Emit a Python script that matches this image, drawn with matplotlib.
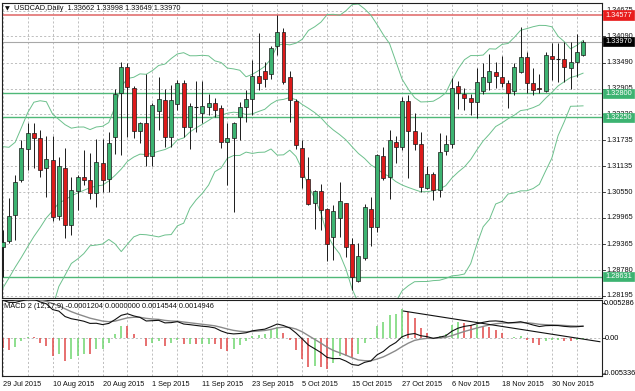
import numpy as np
import pandas as pd
import matplotlib
matplotlib.use("Agg")
import matplotlib.pyplot as plt
from matplotlib.patches import Rectangle
from matplotlib import transforms

plt.rcParams['font.family'] = ['Liberation Sans', 'DejaVu Sans']

W, H = 635, 391

# ---------------- data (USDCAD daily, from 29 Jul 2015) ----------------
opens = [1.2930, 1.2944, 1.3003, 1.3083, 1.3153, 1.3190, 1.3178, 1.3110, 1.3128, 1.3001,
         1.3110, 1.2980, 1.3058, 1.3090, 1.3083, 1.3053, 1.3121, 1.3085, 1.3180, 1.3280,
         1.3340, 1.3292, 1.3194, 1.3212, 1.3137, 1.3240, 1.3265, 1.3180, 1.3255, 1.3303,
         1.3203, 1.3249, 1.3235, 1.3249, 1.3258, 1.3246, 1.3169, 1.3178, 1.3226, 1.3249,
         1.3267, 1.3319, 1.3330, 1.3324, 1.3387, 1.3419, 1.3317, 1.3262, 1.3155, 1.3085,
         1.3030, 1.3058, 1.3017, 1.2953, 1.2996, 1.3030, 1.2937, 1.2853, 1.2906, 1.3017,
         1.2976, 1.3137, 1.3090, 1.3169, 1.3158, 1.3262, 1.3194, 1.3164, 1.3065, 1.3096,
         1.3060, 1.3149, 1.3164, 1.3296, 1.3278, 1.3269, 1.3260, 1.3285, 1.3305, 1.3328,
         1.3317, 1.3303, 1.3285, 1.3328, 1.3362, 1.3303, 1.3292, 1.3285, 1.3365, 1.3358,
         1.3358, 1.3337, 1.3351, 1.33662]
highs = [1.2969, 1.3042, 1.3094, 1.3174, 1.3212, 1.3212, 1.3196, 1.3183, 1.3183, 1.3135,
         1.3155, 1.3090, 1.3094, 1.3151, 1.3144, 1.3176, 1.3176, 1.3192, 1.3290, 1.3351,
         1.3349, 1.3296, 1.3214, 1.3324, 1.3258, 1.3317, 1.3290, 1.3299, 1.3310, 1.3310,
         1.3258, 1.3308, 1.3308, 1.3278, 1.3269, 1.3253, 1.3212, 1.3214, 1.3260, 1.3287,
         1.3355, 1.3417, 1.3351, 1.3387, 1.3457, 1.3428, 1.3330, 1.3267, 1.3174, 1.3135,
         1.3060, 1.3074, 1.3019, 1.3026, 1.3078, 1.3030, 1.2951, 1.2940, 1.3028, 1.3044,
         1.3142, 1.3158, 1.3196, 1.3183, 1.3271, 1.3276, 1.3235, 1.3192, 1.3115, 1.3101,
         1.3190, 1.3185, 1.3314, 1.3308, 1.3292, 1.3278, 1.3337, 1.3349, 1.3369, 1.3351,
         1.3365, 1.3310, 1.3349, 1.3430, 1.3374, 1.3337, 1.3324, 1.3374, 1.3394, 1.3394,
         1.3396, 1.3396, 1.3415, 1.33998]
lows = [1.2863, 1.2940, 1.2946, 1.3078, 1.3105, 1.3110, 1.3090, 1.3044, 1.2990, 1.2992,
        1.2951, 1.2958, 1.3015, 1.3071, 1.3040, 1.3021, 1.3055, 1.3055, 1.3142, 1.3140,
        1.3180, 1.3178, 1.3167, 1.3115, 1.3115, 1.3196, 1.3158, 1.3158, 1.3242, 1.3180,
        1.3153, 1.3192, 1.3212, 1.3230, 1.3226, 1.3155, 1.3071, 1.3010, 1.3174, 1.3214,
        1.3230, 1.3287, 1.3294, 1.3312, 1.3367, 1.3301, 1.3214, 1.3153, 1.3065, 1.3026,
        1.2971, 1.2969, 1.2899, 1.2901, 1.2953, 1.2908, 1.2833, 1.2851, 1.2901, 1.2933,
        1.2965, 1.3083, 1.3040, 1.3121, 1.3151, 1.3087, 1.3151, 1.3055, 1.3062, 1.3037,
        1.3044, 1.3140, 1.3155, 1.3244, 1.3242, 1.3230, 1.3224, 1.3278, 1.3287, 1.3292,
        1.3294, 1.3246, 1.3276, 1.3326, 1.3280, 1.3276, 1.3280, 1.3283, 1.3310, 1.3305,
        1.3305, 1.3290, 1.3317, 1.33649]
closes = [1.2942, 1.3001, 1.3078, 1.3155, 1.3190, 1.3178, 1.3105, 1.3130, 1.2999, 1.3115,
          1.2980, 1.3060, 1.3090, 1.3083, 1.3053, 1.3124, 1.3083, 1.3167, 1.3278, 1.3340,
          1.3294, 1.3194, 1.3212, 1.3137, 1.3253, 1.3267, 1.3180, 1.3265, 1.3303, 1.3203,
          1.3251, 1.3249, 1.3251, 1.3258, 1.3242, 1.3169, 1.3178, 1.3212, 1.3249, 1.3267,
          1.3319, 1.3303, 1.3312, 1.3383, 1.3419, 1.3305, 1.3265, 1.3162, 1.3090, 1.3028,
          1.3058, 1.3015, 1.2937, 1.3012, 1.3035, 1.2930, 1.2862, 1.2910, 1.3021, 1.2976,
          1.3140, 1.3087, 1.3174, 1.3158, 1.3262, 1.3194, 1.3164, 1.3067, 1.3096, 1.3060,
          1.3146, 1.3164, 1.3292, 1.3280, 1.3269, 1.3260, 1.3305, 1.3317, 1.3330, 1.3319,
          1.3303, 1.3280, 1.3340, 1.3362, 1.3303, 1.3287, 1.3290, 1.3367, 1.3358, 1.3358,
          1.3340, 1.3351, 1.3374, 1.33970]
# closes before the first visible bar (estimated, needed for band / MACD warm-up)
prior_closes = [1.2300, 1.2280, 1.2260, 1.2290, 1.2310, 1.2390, 1.2370, 1.2370, 1.2350, 1.2430,
                1.2490, 1.2577, 1.2530, 1.2589, 1.2704, 1.2709, 1.2712, 1.2700, 1.2689, 1.2677,
                1.2757, 1.2842, 1.2874, 1.2964, 1.2958, 1.2934, 1.3049, 1.3044, 1.2977, 1.3025,
                1.3051]

level_red = 1.34577
level_last = 1.33970
levels_green = [1.32800, 1.32250, 1.28631]
price_ticks = [1.28195, 1.28780, 1.29365, 1.29965, 1.30550, 1.31135, 1.31735,
               1.32320, 1.32905, 1.33490, 1.34090, 1.34675]
macd_tick_vals = [0.005286, 0.0, -0.005336]
macd_tick_txt = ["0.005286", "0.00", "-0.005336"]
trend_bars = [64.2, 95.7]
trend_vals = [0.00408, -0.00051]
title_txt = "USDCAD,Daily  1.33662 1.33998 1.33649 1.33970"
macd_txt = "MACD 2 (12,17,9) -0.0001204 0.0000000 0.0014544 0.0014946"
fast_p, slow_p, sig_p = 12, 17, 6

# ---------------- indicators ----------------
n = len(closes)
idx = np.arange(n)
dates = pd.bdate_range('2015-07-29', periods=n)
allc = pd.Series(prior_closes + closes)
mid = allc.rolling(20).mean().values[-n:]
sd = allc.rolling(20).std(ddof=0).values[-n:]
upper = mid + 2 * sd
lower = mid - 2 * sd
macd_full = allc.ewm(span=fast_p, adjust=False).mean() - allc.ewm(span=slow_p, adjust=False).mean()
sig_full = macd_full.ewm(span=sig_p, adjust=False).mean()
hist_full = 3 * (macd_full - sig_full)
macd = macd_full.values[-n:]
sig = sig_full.values[-n:]
hist = hist_full.values[-n:]
hist_prev = hist_full.values[-n - 1:-1]

# ---------------- figure ----------------
fig = plt.figure(figsize=(W / 100, H / 100), dpi=100)
fig.patch.set_facecolor('white')

def fx(px):
    return px / W

def fy(py):
    return 1 - py / H

ax = fig.add_axes([fx(2), fy(298), 600 / W, 295 / H])
axm = fig.add_axes([fx(2), fy(376), 600 / W, 76 / H])
xl = (-0.11, 96.04)
for a in (ax, axm):
    a.set_xlim(*xl)
    a.set_xticks([])
    a.set_yticks([])
    for s in a.spines.values():
        s.set_color('#202020')
        s.set_linewidth(0.8)
ax.set_ylim(1.28145, 1.34850)
axm.set_ylim(-0.00564, 0.00573)

grid_kw = dict(color='#b4b4b4', lw=0.6, ls=(0, (2.5, 2.5)), zorder=0)
for t in price_ticks:
    ax.axhline(t, **grid_kw)
for b in range(0, n, 4):
    ax.axvline(b, **grid_kw)
    axm.axvline(b, **grid_kw)
axm.axhline(0, **grid_kw)

# level lines
ax.axhline(level_red, color='#e47c7c', lw=1.3, zorder=1)
ax.axhline(level_last, color='#a8a8a8', lw=0.8, zorder=1)
for lv in levels_green:
    ax.axhline(lv, color='#4fb878', lw=1.0, zorder=1)

# bollinger bands
bb_col = '#6cc08c'
ax.plot(idx, upper, color=bb_col, lw=0.7, zorder=2)
ax.plot(idx, mid, color=bb_col, lw=0.7, zorder=2)
ax.plot(idx, lower, color=bb_col, lw=0.7, zorder=2)

# candles
bw = 0.64
for i in range(n):
    o, h, l, c = opens[i], highs[i], lows[i], closes[i]
    ax.vlines(i, l, h, color='#1a1a1a', lw=0.7, zorder=3)
    if abs(c - o) < 1e-9:
        ax.hlines(o, i - bw / 2, i + bw / 2, color='#1a1a1a', lw=0.8, zorder=4)
        continue
    fc = '#3cb371' if c > o else '#dd1a1a'
    ax.add_patch(Rectangle((i - bw / 2, min(o, c)), bw, abs(c - o),
                           facecolor=fc, edgecolor='#1a1a1a', lw=0.5, zorder=4))

# right price scale
yt = ax.get_yaxis_transform()
fs = 5.3
for t in price_ticks:
    ax.plot([1.0, 1.005], [t, t], transform=yt, color='#202020', lw=0.6, clip_on=False)
    ax.text(1.0078, t, f"{t:.5f}", transform=yt, fontsize=fs, va='center', ha='left',
            color='#101010', clip_on=False)

bt = transforms.blended_transform_factory(fig.transFigure, ax.transData)
def box(level, txt, col):
    hh = 4.6 / 4400
    ax.add_patch(Rectangle((fx(603), level - hh), 31 / W, 2 * hh, transform=bt,
                           facecolor=col, edgecolor=col, lw=0.5, clip_on=False, zorder=10))
    ax.text(fx(605.5), level, txt, transform=bt, fontsize=fs, va='center', ha='left',
            color='white', clip_on=False, zorder=11)

box(level_red, f"{level_red:.5f}", '#e81c1c')
box(level_last, f"{level_last:.5f}", '#000000')
for lv in levels_green:
    box(lv, f"{lv:.5f}", '#3cb371')

# title
fig.text(fx(4.5), fy(8.3), "\u25BC", fontsize=4.5, va='center', ha='left',
         family=['DejaVu Sans'], color='#101010')
fig.text(fx(14.5), fy(8.3), title_txt, fontsize=fs, va='center', ha='left', color='#101010')

# ---------------- MACD panel ----------------
for i in range(n):
    col = '#6fd66f' if hist[i] >= hist_prev[i] else '#e04848'
    axm.vlines(i, 0, hist[i], color=col, lw=1.1, zorder=2)
axm.plot(idx, sig, color='#8a8a8a', lw=1.0, zorder=3)
axm.plot(idx, macd, color='#101010', lw=0.8, zorder=4)
axm.plot(trend_bars, trend_vals, color='#101010', lw=0.8, zorder=5)

mt = axm.get_yaxis_transform()
for v in macd_tick_vals:
    axm.plot([1.0, 1.005], [v, v], transform=mt, color='#202020', lw=0.6, clip_on=False)
mbt = transforms.blended_transform_factory(fig.transFigure, axm.transData)
axm.text(fx(603.3), macd_tick_vals[0] - 0.0001, macd_tick_txt[0], transform=mbt, fontsize=fs,
         va='center', ha='left', clip_on=False)
axm.text(fx(605), macd_tick_vals[1], macd_tick_txt[1], transform=mbt, fontsize=fs,
         va='center', ha='left', clip_on=False)
axm.text(fx(602.7), macd_tick_vals[2] + 0.00005, macd_tick_txt[2], transform=mbt, fontsize=fs,
         va='center', ha='left', clip_on=False)
fig.text(fx(4), fy(306.5), macd_txt, fontsize=fs, va='center', ha='left', color='#101010')

# date labels
for k in range(0, n, 8):
    d = dates[k]
    xpx = 2.7 + 6.24 * k
    fig.text(fx(xpx), fy(384), f"{d.day} {d:%b %Y}", fontsize=fs, va='center', ha='left',
             color='#101010')

fig.savefig('out.png', dpi=100, facecolor='white')
